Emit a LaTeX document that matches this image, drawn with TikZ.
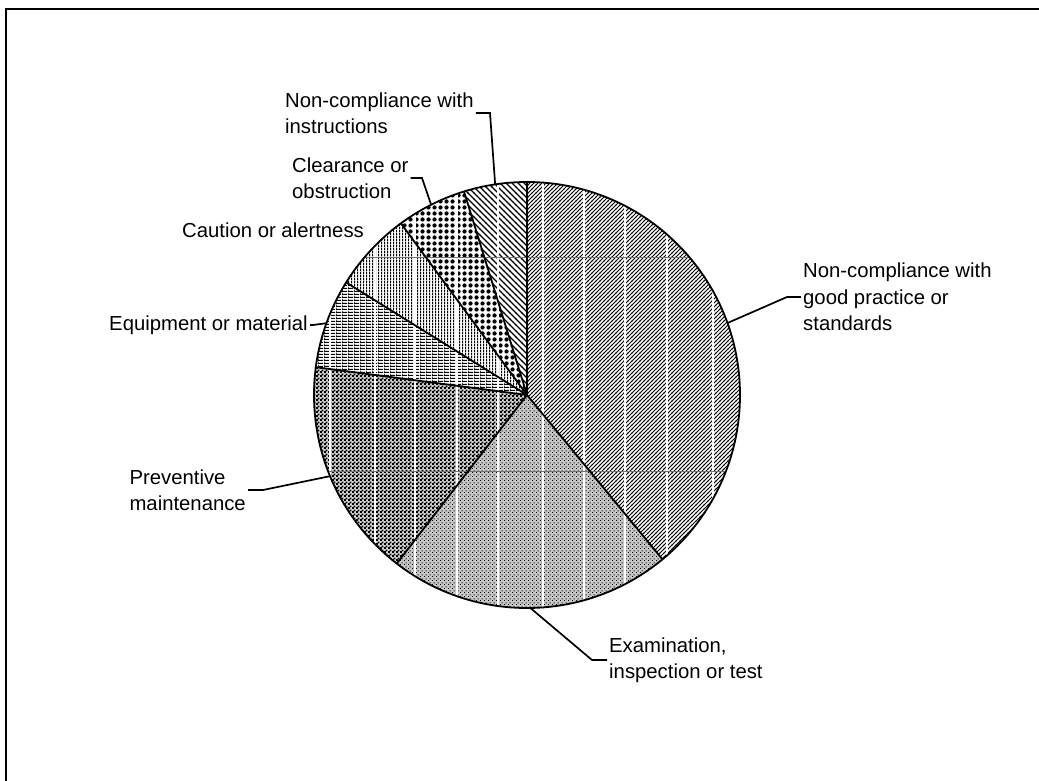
\documentclass[tikz,border=0pt]{standalone}
\usepackage{fontspec}
\setmainfont{Liberation Sans}
\usetikzlibrary{patterns}

% ---- fill patterns for the slices (units: 1pt = 1 drawing unit) ----
% dense lines rising to the right
\pgfdeclarepatternformonly{hatchup}{\pgfqpoint{-1pt}{-1pt}}{\pgfqpoint{5pt}{5pt}}{\pgfqpoint{4pt}{4pt}}{%
  \pgfsetlinewidth{1.05pt}%
  \pgfpathmoveto{\pgfqpoint{-0.2pt}{-0.2pt}}\pgfpathlineto{\pgfqpoint{4.2pt}{4.2pt}}%
  \pgfusepath{stroke}}
% wider lines falling to the right
\pgfdeclarepatternformonly{hatchdown}{\pgfqpoint{-1pt}{-1pt}}{\pgfqpoint{7pt}{7pt}}{\pgfqpoint{6pt}{6pt}}{%
  \pgfsetlinewidth{1.15pt}%
  \pgfpathmoveto{\pgfqpoint{-0.2pt}{6.2pt}}\pgfpathlineto{\pgfqpoint{6.2pt}{-0.2pt}}%
  \pgfusepath{stroke}}
% narrow horizontal lines with thin verticals
\pgfdeclarepatternformonly{hbars}{\pgfqpoint{0pt}{0pt}}{\pgfqpoint{6pt}{3pt}}{\pgfqpoint{6pt}{3pt}}{%
  \pgfpathrectangle{\pgfqpoint{0pt}{0pt}}{\pgfqpoint{6pt}{1.5pt}}%
  \pgfpathrectangle{\pgfqpoint{0pt}{0pt}}{\pgfqpoint{0.6pt}{3pt}}%
  \pgfusepath{fill}}
% narrow vertical lines
\pgfdeclarepatternformonly{vbars}{\pgfqpoint{0pt}{0pt}}{\pgfqpoint{3pt}{3pt}}{\pgfqpoint{3pt}{3pt}}{%
  \pgfpathrectangle{\pgfqpoint{0pt}{0pt}}{\pgfqpoint{1.5pt}{3pt}}%
  \pgfusepath{fill}}
% small checkerboard
\pgfdeclarepatternformonly{checks}{\pgfqpoint{0pt}{0pt}}{\pgfqpoint{4pt}{4pt}}{\pgfqpoint{4pt}{4pt}}{%
  \pgfpathrectangle{\pgfqpoint{0pt}{0pt}}{\pgfqpoint{2.3pt}{2.3pt}}%
  \pgfpathrectangle{\pgfqpoint{2pt}{2pt}}{\pgfqpoint{2.3pt}{2.3pt}}%
  \pgfusepath{fill}}
% bold dots on a square grid
\pgfdeclarepatternformonly{bigdots}{\pgfqpoint{0pt}{0pt}}{\pgfqpoint{5.5pt}{5.5pt}}{\pgfqpoint{5.5pt}{5.5pt}}{%
  \pgfpathcircle{\pgfqpoint{2.75pt}{2.75pt}}{2.3pt}%
  \pgfusepath{fill}}
% fine specks
\pgfdeclarepatternformonly{specks}{\pgfqpoint{0pt}{0pt}}{\pgfqpoint{4pt}{4pt}}{\pgfqpoint{4pt}{4pt}}{%
  \pgfpathrectangle{\pgfqpoint{0pt}{0pt}}{\pgfqpoint{1.2pt}{1.2pt}}%
  \pgfpathrectangle{\pgfqpoint{2pt}{2pt}}{\pgfqpoint{1.2pt}{1.2pt}}%
  \pgfusepath{fill}}

\begin{document}
\begin{tikzpicture}[x=1pt, y=1pt,
  lbl/.style={font=\fontsize{20.3}{26.5}\selectfont, align=left, inner sep=2pt},
  edge/.style={line width=1.8pt, line join=round},
  leader/.style={line width=1.7pt, line join=miter},
  gridline/.style={white, line width=1.1pt}]
\useasboundingbox (0,0) rectangle (1039,-781);

% outer frame
\draw[line width=2pt] (6,-9) rectangle (1050,-800);

\def\R{213}
\begin{scope}[shift={(527,-395)}]
  \coordinate (O) at (0,0);
  % slices, clockwise from twelve o'clock
  \fill[pattern=hatchup]   (O) -- (90:\R)     arc[start angle=90,     end angle=-50.5,  radius=\R] -- cycle;
  \fill[gray!45] (O) -- (-50.5:\R) arc[start angle=-50.5, end angle=-127.7, radius=\R] -- cycle;
  \fill[pattern=specks]    (O) -- (-50.5:\R)  arc[start angle=-50.5,  end angle=-127.7, radius=\R] -- cycle;
  \fill[gray!35] (O) -- (-127.7:\R) arc[start angle=-127.7, end angle=-187.5, radius=\R] -- cycle;
  \fill[pattern=checks]    (O) -- (-127.7:\R) arc[start angle=-127.7, end angle=-187.5, radius=\R] -- cycle;
  \fill[pattern=hbars]     (O) -- (-187.5:\R) arc[start angle=-187.5, end angle=-211.9, radius=\R] -- cycle;
  \fill[pattern=vbars]     (O) -- (-211.9:\R) arc[start angle=-211.9, end angle=-233.7, radius=\R] -- cycle;
  \fill[pattern=bigdots]   (O) -- (-233.7:\R) arc[start angle=-233.7, end angle=-252.8, radius=\R] -- cycle;
  \fill[pattern=hatchdown] (O) -- (-252.8:\R) arc[start angle=-252.8, end angle=-270,   radius=\R] -- cycle;

  % light raster lines across the fills
  \begin{scope}
    \clip (O) circle (\R);
    \foreach \x in {330,375,415,457,498,543,584,625,667,713}
      \draw[gridline] (\x-527,230) -- (\x-527,-230);
    \foreach \y in {257,471}
      \draw[black!55, line width=0.5pt] (-230,395-\y) -- (230,395-\y);
  \end{scope}

  % slice borders and rim
  \foreach \a in {90,-50.5,-127.7,-187.5,-211.9,-233.7,-252.8}
    \draw[edge] (O) -- (\a:\R);
  \draw[edge] (O) circle (\R);

  % leader anchor points on the rim (slice mid-angles)
  \coordinate (pGood)  at (19.75:\R);
  \coordinate (pExam)  at (-89.1:\R);
  \coordinate (pPrev)  at (202.4:\R);
  \coordinate (pEquip) at (160.3:\R);
  \coordinate (pClear) at (116.75:\R);
  \coordinate (pInstr) at (98.6:\R);
\end{scope}

% labels
\node[lbl, anchor=west] (good)    at (801,-297) {Non-compliance with\\good practice or\\standards};
\node[lbl, anchor=west] (exam)    at (607,-660) {Examination,\\inspection or test};
\node[lbl, anchor=east] (prev)    at (248,-490) {Preventive\\maintenance};
\node[lbl, anchor=east] (equip)   at (310,-325) {Equipment or material};
\node[lbl, anchor=west] (caution) at (180,-230) {Caution or alertness};
\node[lbl, anchor=west] (clear)   at (290,-178) {Clearance or\\obstruction};
\node[lbl, anchor=west] (instr)   at (283,-113) {Non-compliance with\\instructions};

% leader knees
\coordinate (kGood)  at (787,-297);
\coordinate (kExam)  at (592,-660);
\coordinate (kPrev)  at (263,-490);
\coordinate (kEquip) at (313,-325);
\coordinate (kClear) at (422,-178);
\coordinate (kInstr) at (490,-113);

% leader lines
\draw[leader] (pGood)  -- (kGood)  -- (good.west);
\draw[leader] (pExam)  -- (kExam)  -- (exam.west);
\draw[leader] (pPrev)  -- (kPrev)  -- (prev.east);
\draw[leader] (pEquip) -- (kEquip) -- (equip.east);
\draw[leader] (pClear) -- (kClear) -- (clear.east);
\draw[leader] (pInstr) -- (kInstr) -- (instr.east);
\end{tikzpicture}
\end{document}
